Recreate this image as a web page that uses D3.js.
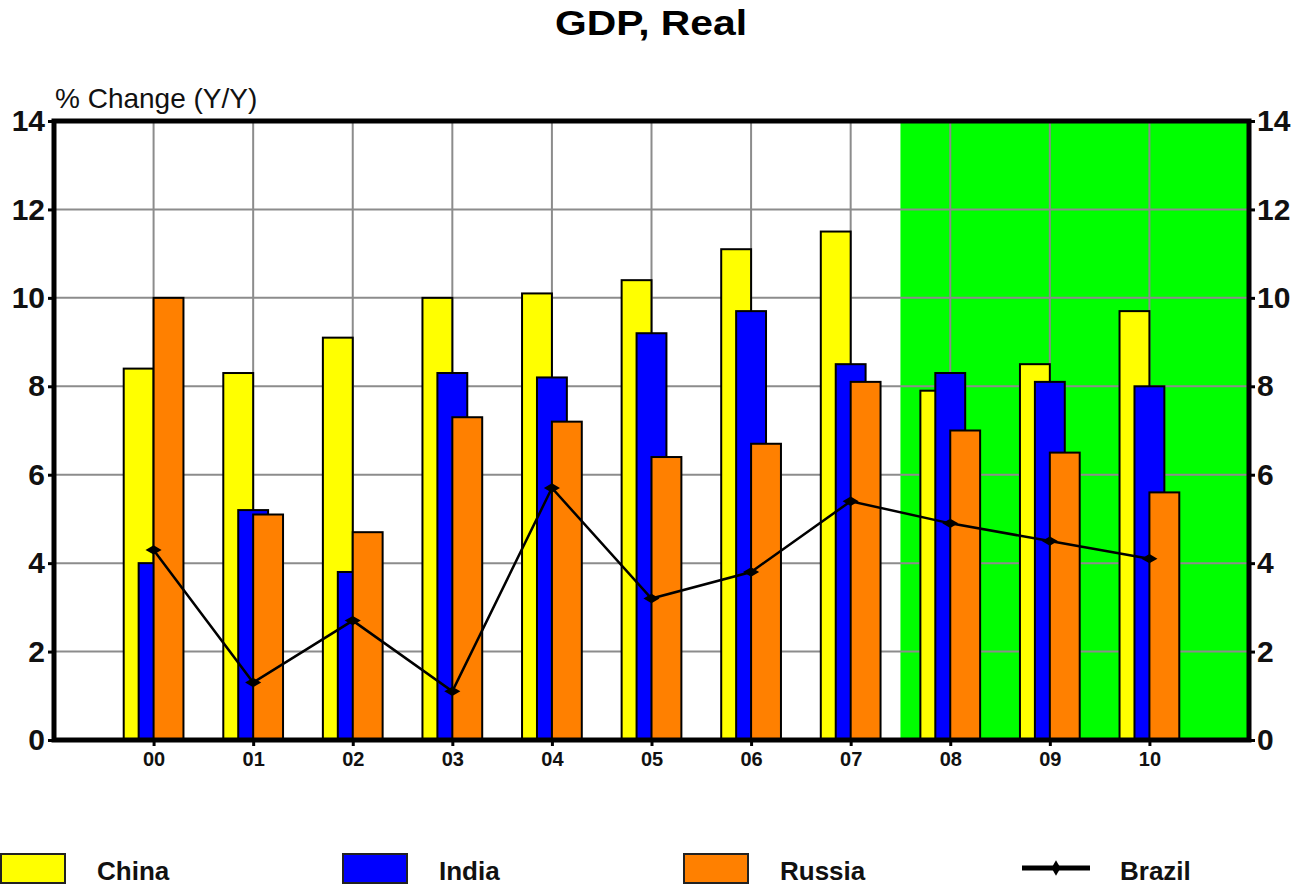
<!DOCTYPE html>
<html>
<head>
<meta charset="utf-8">
<script src="https://cdn.jsdelivr.net/npm/d3@7"></script>
<style>
  body { margin: 0; background: #fff; }
  svg { display: block; font-family: "Liberation Sans", Arial, sans-serif; }
</style>
</head>
<body>
<div id="chart"></div>
<script>
// data (% change y/y)
const years  = ["00", "01", "02", "03", "04", "05", "06", "07", "08", "09", "10"];
const china  = [8.4, 8.3, 9.1, 10.0, 10.1, 10.4, 11.1, 11.5, 7.9, 8.5, 9.7];
const india  = [4.0, 5.2, 3.8, 8.3, 8.2, 9.2, 9.7, 8.5, 8.3, 8.1, 8.0];
const russia = [10.0, 5.1, 4.7, 7.3, 7.2, 6.4, 6.7, 8.1, 7.0, 6.5, 5.6];
const brazil = [4.3, 1.3, 2.7, 1.1, 5.7, 3.2, 3.8, 5.4, 4.9, 4.5, 4.1];
const yTicks = [0, 2, 4, 6, 8, 10, 12, 14];
const forecastFrom = "08";   // shaded (green) years start here

const W = 1307, H = 887;
const margin = {left: 54, right: 1249, top: 121, bottom: 740};

const svg = d3.select("#chart").append("svg")
    .attr("width", W).attr("height", H);

// one slot of padding on each side of the 11 years
let x = d3.scaleLinear().domain([-1, years.length]).range([margin.left, margin.right]);
let y = d3.scaleLinear().domain([0, 14]).range([margin.bottom, margin.top]);
const step = x(1) - x(0);
const barW = step * 0.3;

// title + unit label
svg.append("text")
    .attr("x", 651).attr("y", 35)
    .attr("text-anchor", "middle")
    .attr("font-size", 35).attr("font-weight", "bold")
    .attr("textLength", 192).attr("lengthAdjust", "spacingAndGlyphs")
    .text("GDP, Real");

svg.append("text")
    .attr("x", 55).attr("y", 108)
    .attr("font-size", 28).attr("fill", "#111")
    .text("% Change (Y/Y)");

// forecast shading
const fi = years.indexOf(forecastFrom);
svg.append("rect")
    .attr("x", x(fi - 0.5)).attr("y", margin.top)
    .attr("width", margin.right - x(fi - 0.5)).attr("height", margin.bottom - margin.top)
    .attr("fill", "#00ff00");

// grid
svg.append("g").selectAll("line")
    .data(yTicks.slice(1, -1))
    .enter().append("line")
    .attr("x1", margin.left).attr("x2", margin.right)
    .attr("y1", d => y(d)).attr("y2", d => y(d))
    .attr("stroke", "#8c8c8c").attr("stroke-width", 2);

svg.append("g").selectAll("line")
    .data(years)
    .enter().append("line")
    .attr("x1", (d, i) => x(i)).attr("x2", (d, i) => x(i))
    .attr("y1", margin.top).attr("y2", margin.bottom)
    .attr("stroke", "#8c8c8c").attr("stroke-width", 2);

// bars: yellow, blue, orange overlap by half a bar
const series = [
  {name: "China",  values: china,  color: "#ffff00", off: -1},
  {name: "India",  values: india,  color: "#0000ff", off: -0.5},
  {name: "Russia", values: russia, color: "#ff8000", off: 0}
];

series.forEach(s => {
  svg.append("g").selectAll("rect")
      .data(s.values)
      .enter().append("rect")
      .attr("x", (d, i) => x(i) + s.off * barW)
      .attr("y", d => y(d))
      .attr("width", barW)
      .attr("height", d => y(0) - y(d))
      .attr("fill", s.color)
      .attr("stroke", "#000").attr("stroke-width", 2);
});

// Brazil line
const line = d3.line().x((d, i) => x(i)).y(d => y(d));
svg.append("path")
    .datum(brazil)
    .attr("d", line)
    .attr("fill", "none").attr("stroke", "#000").attr("stroke-width", 2.5);

const diamond = d3.symbol(d3.symbolDiamond).size(75);
svg.append("g").selectAll("path")
    .data(brazil)
    .enter().append("path")
    .attr("d", diamond)
    .attr("transform", (d, i) => "translate(" + x(i) + "," + y(d) + ") rotate(90)")
    .attr("fill", "#000");

// axes
let yAxisL = d3.axisLeft(y).tickValues(yTicks).tickSize(6).tickPadding(3),
    yAxisR = d3.axisRight(y).tickValues(yTicks).tickSize(6).tickPadding(2),
    xAxis  = d3.axisBottom(x).tickValues(d3.range(years.length))
               .tickFormat(i => years[i]).tickSize(6).tickPadding(6);

function styleAxis(g, size) {
  g.select(".domain").remove();
  g.selectAll(".tick line").attr("stroke", "#000").attr("stroke-width", 3);
  g.selectAll(".tick text")
      .attr("font-size", size).attr("font-weight", "bold")
      .attr("font-family", "Liberation Sans, Arial, sans-serif")
      .attr("fill", "#111");
}

svg.append("g").attr("transform", "translate(" + margin.left + ",0)")
    .call(yAxisL).call(g => styleAxis(g, 30));
svg.append("g").attr("transform", "translate(" + margin.right + ",0)")
    .call(yAxisR).call(g => styleAxis(g, 30));
svg.append("g").attr("transform", "translate(0," + margin.bottom + ")")
    .call(xAxis).call(g => styleAxis(g, 20));

// frame
svg.append("rect")
    .attr("x", margin.left).attr("y", margin.top)
    .attr("width", margin.right - margin.left).attr("height", margin.bottom - margin.top)
    .attr("fill", "none").attr("stroke", "#000").attr("stroke-width", 5);

// legend
const legendX = [0, 342, 683, 1022];
const legend = svg.append("g");
series.forEach((s, i) => {
  legend.append("rect")
      .attr("x", legendX[i] + 1).attr("y", 854)
      .attr("width", 64).attr("height", 29)
      .attr("fill", s.color)
      .attr("stroke", "#222").attr("stroke-width", 2);
  legend.append("text")
      .attr("x", legendX[i] + 97).attr("y", 880)
      .attr("font-size", 26).attr("font-weight", "bold").attr("fill", "#111")
      .text(s.name);
});
legend.append("line")
    .attr("x1", legendX[3]).attr("x2", legendX[3] + 68)
    .attr("y1", 868).attr("y2", 868)
    .attr("stroke", "#000").attr("stroke-width", 5);
legend.append("path")
    .attr("d", d3.symbol(d3.symbolDiamond).size(70))
    .attr("transform", "translate(" + (legendX[3] + 34) + ",868)")
    .attr("fill", "#000");
legend.append("text")
    .attr("x", legendX[3] + 98).attr("y", 880)
    .attr("font-size", 26).attr("font-weight", "bold").attr("fill", "#111")
    .text("Brazil");
</script>
</body>
</html>
